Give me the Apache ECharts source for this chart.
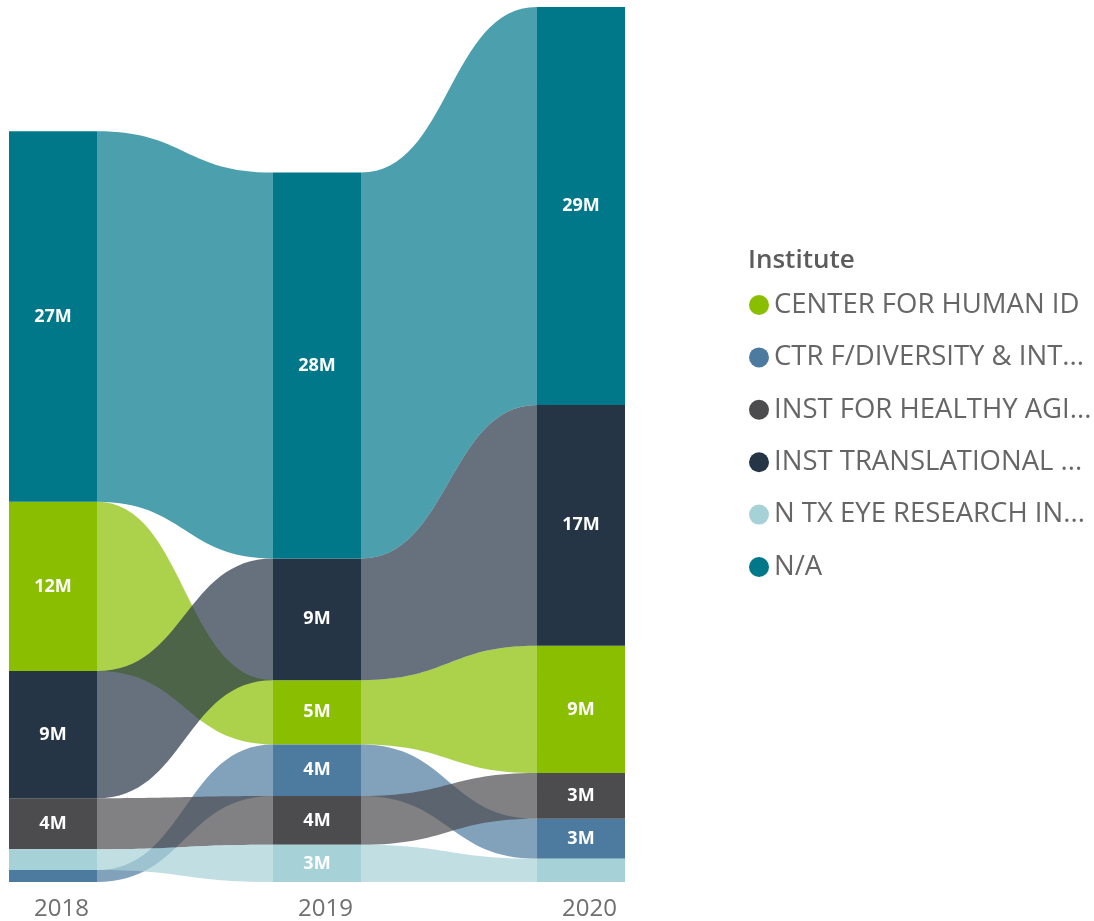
<!DOCTYPE html>
<html>
<head>
<meta charset="utf-8">
<title>Institute ribbon</title>
<script src="https://cdn.jsdelivr.net/npm/echarts@6/dist/echarts.min.js"></script>
<style>
  html, body { margin: 0; padding: 0; background: #fff; }
  #main { width: 1094px; height: 921px; }
</style>
</head>
<body>
<div id="main"></div>
<script>
var years = ['2018', '2019', '2020'];
var institutes = ['CENTER FOR HUMAN ID', 'CTR F/DIVERSITY & INT...', 'INST FOR HEALTHY AGI...',
                  'INST TRANSLATIONAL ...', 'N TX EYE RESEARCH IN...', 'N/A'];
var colors = ['#89bf00', '#4d7ba0', '#4c4c4e', '#253546', '#a6d1d7', '#00788a'];

// amounts in millions, one entry per year
var centerHumanId     = [12.22, 4.64, 9.19];
var ctrDiversity      = [0.87, 3.73, 2.89];
var instHealthyAging  = [3.68, 3.52, 3.30];
var instTranslational = [9.19, 8.79, 17.4];
var nTxEye            = [1.50, 2.69, 1.68];
var notAssigned       = [26.77, 27.87, 28.74];

var values = [centerHumanId, ctrDiversity, instHealthyAging, instTranslational, nTxEye, notAssigned];

// ribbon chart: each year is stacked by rank, biggest on top
var bases = values.map(function () { return []; });
var totals = [];
years.forEach(function (y, j) {
    var order = values.map(function (v, i) { return i; })
        .sort(function (a, b) { return values[a][j] - values[b][j]; });
    var acc = 0;
    order.forEach(function (i) { bases[i][j] = acc; acc += values[i][j]; });
    totals[j] = acc;
});

var half = 0.1667; // half bar width, in x units

function renderItem(params, api) {
    var i = params.seriesIndex, j = params.dataIndex;
    var b = bases[i][j], v = values[i][j];
    var tl = api.coord([j - half, b + v]);
    var br = api.coord([j + half, b]);
    var children = [];

    if (j < years.length - 1) {
        var nb = bases[i][j + 1], nv = values[i][j + 1];
        var a0 = api.coord([j + half, b + v]), a1 = api.coord([j + half, b]);
        var c0 = api.coord([j + 1 - half, nb + nv]), c1 = api.coord([j + 1 - half, nb]);
        var cx = (a0[0] + c0[0]) / 2;
        var d = 'M' + a0[0] + ' ' + a0[1] +
            ' C' + cx + ' ' + a0[1] + ' ' + cx + ' ' + c0[1] + ' ' + c0[0] + ' ' + c0[1] +
            ' L' + c1[0] + ' ' + c1[1] +
            ' C' + cx + ' ' + c1[1] + ' ' + cx + ' ' + a1[1] + ' ' + a1[0] + ' ' + a1[1] + ' Z';
        children.push({
            type: 'path',
            shape: { pathData: d },
            style: { fill: colors[i], opacity: 0.7 }
        });
    }

    children.push({
        type: 'rect',
        shape: { x: tl[0], y: tl[1], width: br[0] - tl[0], height: br[1] - tl[1] },
        style: { fill: colors[i] }
    });

    if (br[1] - tl[1] >= 30) {
        children.push({
            type: 'text',
            style: {
                text: Math.round(v) + 'M',
                x: (tl[0] + br[0]) / 2,
                y: (tl[1] + br[1]) / 2,
                align: 'center',
                verticalAlign: 'middle',
                fill: '#fff',
                fontSize: 18,
                fontWeight: 'bold',
                fontFamily: 'Open Sans'
            }
        });
    }
    return { type: 'group', children: children };
}

var myChart = echarts.init(document.getElementById('main'));

var series = institutes.map(function (name, i) {
    return {
        type: 'custom',
        name: name,
        renderItem: renderItem,
        itemStyle: { color: colors[i] },
        encode: { x: 0, y: 1 },
        data: years.map(function (y, j) { return [j, bases[i][j] + values[i][j]]; })
    };
});

myChart.setOption({
    animation: false,
    title: {
        text: 'Institute',
        left: 748,
        top: 248,
        padding: 0,
        textStyle: { fontSize: 26, fontWeight: 600, color: '#5c5c5c', fontFamily: 'Open Sans' }
    },
    legend: {
        data: institutes,
        orient: 'vertical',
        left: 749,
        top: 291,
        padding: 0,
        icon: 'circle',
        itemWidth: 20,
        itemHeight: 20,
        itemGap: 24.4,
        textStyle: { fontSize: 27.5, lineHeight: 28, color: '#666', fontFamily: 'Open Sans' }
    },
    grid: { left: 53, right: 513, top: 7, bottom: 38.5 },
    xAxis: {
        type: 'value',
        min: 0,
        max: years.length - 1,
        interval: 1,
        axisLine: { show: false },
        axisTick: { show: false },
        splitLine: { show: false },
        axisLabel: {
            margin: 15,
            padding: [0, 0, 0, 17],
            fontSize: 24,
            color: '#6f6f6f',
            fontFamily: 'Open Sans',
            formatter: function (v) { return years[v]; }
        }
    },
    yAxis: {
        type: 'value',
        min: 0,
        max: Math.max.apply(null, totals),
        show: false
    },
    series: series
});
</script>
</body>
</html>
